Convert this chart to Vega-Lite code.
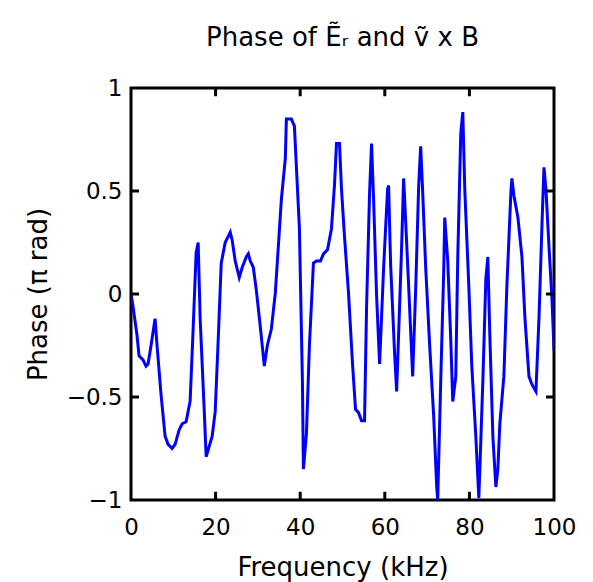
{
  "$schema": "https://vega.github.io/schema/vega-lite/v6.json",
  "width": 423,
  "height": 412,
  "autosize": {"type": "none"},
  "padding": {"left": 131, "top": 88, "right": 39, "bottom": 82},
  "background": "white",
  "title": {"text": "Phase of Ẽᵣ and ṽ x B", "font": "DejaVu Sans", "fontSize": 26, "fontWeight": "normal", "color": "black", "anchor": "middle", "offset": 26},
  "config": {
    "view": {"stroke": "black", "strokeWidth": 3},
    "axis": {"domain": false, "grid": false, "ticks": true, "tickOpacity": 0, "tickSize": 12, "labelFont": "DejaVu Sans", "labelFontSize": 23, "labelColor": "black", "titleFont": "DejaVu Sans", "titleFontSize": 26, "titleFontWeight": "normal", "titleColor": "black", "labelFlush": false, "labelOverlap": false}
  },
  "datasets": {
    "phase": [
      {"f": 0, "p": 0}, {"f": 0.47, "p": -0.06}, {"f": 1.42, "p": -0.2}, {"f": 1.9, "p": -0.3}, {"f": 2.84, "p": -0.32},
      {"f": 3.55, "p": -0.35}, {"f": 4.03, "p": -0.34}, {"f": 4.74, "p": -0.25}, {"f": 5.69, "p": -0.12}, {"f": 6.16, "p": -0.25},
      {"f": 7.11, "p": -0.49}, {"f": 8.06, "p": -0.69}, {"f": 8.77, "p": -0.73}, {"f": 9.72, "p": -0.75}, {"f": 10.43, "p": -0.73},
      {"f": 11.37, "p": -0.66}, {"f": 12.09, "p": -0.63}, {"f": 13.03, "p": -0.62}, {"f": 13.98, "p": -0.52}, {"f": 14.69, "p": -0.17},
      {"f": 15.4, "p": 0.2}, {"f": 15.88, "p": 0.25}, {"f": 16.35, "p": -0.12}, {"f": 17.3, "p": -0.56}, {"f": 17.77, "p": -0.79},
      {"f": 18.48, "p": -0.74}, {"f": 19.19, "p": -0.69}, {"f": 19.91, "p": -0.57}, {"f": 20.62, "p": -0.22}, {"f": 21.33, "p": 0.15},
      {"f": 22.27, "p": 0.25}, {"f": 22.99, "p": 0.28}, {"f": 23.46, "p": 0.3}, {"f": 23.93, "p": 0.26}, {"f": 24.64, "p": 0.16},
      {"f": 25.59, "p": 0.08}, {"f": 26.3, "p": 0.13}, {"f": 27.25, "p": 0.18}, {"f": 27.73, "p": 0.195}, {"f": 28.2, "p": 0.16},
      {"f": 28.91, "p": 0.13}, {"f": 29.62, "p": 0.02}, {"f": 30.57, "p": -0.16}, {"f": 31.52, "p": -0.35}, {"f": 32.23, "p": -0.25},
      {"f": 33.18, "p": -0.17}, {"f": 34.12, "p": 0.005}, {"f": 34.83, "p": 0.23}, {"f": 35.55, "p": 0.46}, {"f": 36.49, "p": 0.66},
      {"f": 36.73, "p": 0.85}, {"f": 37.91, "p": 0.85}, {"f": 38.63, "p": 0.815}, {"f": 39.81, "p": 0.32}, {"f": 40.52, "p": -0.42},
      {"f": 40.76, "p": -0.85}, {"f": 41.47, "p": -0.68}, {"f": 42.18, "p": -0.25}, {"f": 43.13, "p": 0.15}, {"f": 43.84, "p": 0.16},
      {"f": 44.79, "p": 0.16}, {"f": 45.5, "p": 0.195}, {"f": 46.45, "p": 0.215}, {"f": 47.39, "p": 0.317}, {"f": 48.1, "p": 0.527},
      {"f": 48.58, "p": 0.73}, {"f": 49.29, "p": 0.73}, {"f": 49.76, "p": 0.51}, {"f": 50.47, "p": 0.28}, {"f": 51.42, "p": 0.005},
      {"f": 52.37, "p": -0.34}, {"f": 53.08, "p": -0.56}, {"f": 53.79, "p": -0.576}, {"f": 54.5, "p": -0.615}, {"f": 55.21, "p": -0.615},
      {"f": 55.69, "p": -0.063}, {"f": 56.4, "p": 0.49}, {"f": 56.87, "p": 0.73}, {"f": 57.35, "p": 0.46}, {"f": 58.06, "p": -0.01},
      {"f": 58.77, "p": -0.34}, {"f": 59.72, "p": 0.127}, {"f": 60.66, "p": 0.51}, {"f": 60.9, "p": 0.527}, {"f": 61.37, "p": 0.146},
      {"f": 62.32, "p": -0.29}, {"f": 62.8, "p": -0.473}, {"f": 63.98, "p": 0.229}, {"f": 64.45, "p": 0.561}, {"f": 64.69, "p": 0.459},
      {"f": 65.64, "p": 0.039}, {"f": 66.59, "p": -0.4}, {"f": 67.3, "p": 0.024}, {"f": 68.01, "p": 0.527}, {"f": 68.48, "p": 0.717},
      {"f": 68.96, "p": 0.493}, {"f": 69.67, "p": 0.127}, {"f": 70.62, "p": -0.254}, {"f": 71.56, "p": -0.595}, {"f": 72.27, "p": -0.937},
      {"f": 72.51, "p": -1.0}, {"f": 73.22, "p": -0.424}, {"f": 73.93, "p": 0.112}, {"f": 74.17, "p": 0.371}, {"f": 74.88, "p": 0.161},
      {"f": 75.59, "p": -0.22}, {"f": 76.07, "p": -0.522}, {"f": 76.78, "p": -0.4}, {"f": 77.25, "p": 0.18}, {"f": 77.96, "p": 0.78},
      {"f": 78.44, "p": 0.883}, {"f": 78.91, "p": 0.507}, {"f": 79.86, "p": 0.039}, {"f": 80.57, "p": -0.351}, {"f": 81.52, "p": -0.693},
      {"f": 82.23, "p": -0.99}, {"f": 83.18, "p": -0.424}, {"f": 83.89, "p": 0.073}, {"f": 84.36, "p": 0.18}, {"f": 84.83, "p": -0.2},
      {"f": 85.55, "p": -0.693}, {"f": 86.26, "p": -0.937}, {"f": 86.73, "p": -0.849}, {"f": 87.2, "p": -0.629}, {"f": 88.15, "p": -0.4},
      {"f": 88.86, "p": 0.039}, {"f": 89.81, "p": 0.493}, {"f": 90.05, "p": 0.561}, {"f": 90.52, "p": 0.478}, {"f": 91.47, "p": 0.371},
      {"f": 92.42, "p": 0.18}, {"f": 93.13, "p": -0.117}, {"f": 94.08, "p": -0.4}, {"f": 94.79, "p": -0.439}, {"f": 95.73, "p": -0.473},
      {"f": 96.45, "p": -0.117}, {"f": 97.16, "p": 0.337}, {"f": 97.63, "p": 0.615}, {"f": 98.1, "p": 0.507}, {"f": 98.82, "p": 0.229},
      {"f": 99.53, "p": -0.029}, {"f": 100, "p": -0.273}
    ],
    "xticks": [{"f": 20}, {"f": 40}, {"f": 60}, {"f": 80}],
    "yticks": [{"p": -0.5}, {"p": 0}, {"p": 0.5}]
  },
  "layer": [
    {
      "data": {"name": "phase"},
      "mark": {"type": "line", "color": "#0000ff", "strokeWidth": 3, "clip": true},
      "encoding": {
        "x": {"field": "f", "type": "quantitative", "scale": {"domain": [0, 100], "nice": false, "zero": false},
              "axis": {"values": [0, 20, 40, 60, 80, 100], "format": "d", "labelPadding": 4, "title": "Frequency (kHz)", "titleX": 211.5, "titleY": 75, "titleBaseline": "alphabetic", "titleAlign": "center"}},
        "y": {"field": "p", "type": "quantitative", "scale": {"domain": [-1, 1], "nice": false, "zero": false},
              "axis": {"values": [-1, -0.5, 0, 0.5, 1], "format": "~g", "labelPadding": -3, "title": "Phase (π rad)", "titleX": -93, "titleY": 206, "titleAngle": 270, "titleBaseline": "middle", "titleAlign": "center"}}
      }
    },
    {
      "data": {"name": "xticks"},
      "mark": {"type": "rule", "color": "black", "strokeWidth": 3},
      "encoding": {"x": {"field": "f", "type": "quantitative"}, "y": {"datum": -1, "type": "quantitative"}, "y2": {"datum": -0.96}}
    },
    {
      "data": {"name": "xticks"},
      "mark": {"type": "rule", "color": "black", "strokeWidth": 3},
      "encoding": {"x": {"field": "f", "type": "quantitative"}, "y": {"datum": 1, "type": "quantitative"}, "y2": {"datum": 0.96}}
    },
    {
      "data": {"name": "yticks"},
      "mark": {"type": "rule", "color": "black", "strokeWidth": 3},
      "encoding": {"y": {"field": "p", "type": "quantitative"}, "x": {"datum": 0, "type": "quantitative"}, "x2": {"datum": 1.9}}
    },
    {
      "data": {"name": "yticks"},
      "mark": {"type": "rule", "color": "black", "strokeWidth": 3},
      "encoding": {"y": {"field": "p", "type": "quantitative"}, "x": {"datum": 100, "type": "quantitative"}, "x2": {"datum": 98.1}}
    }
  ]
}
